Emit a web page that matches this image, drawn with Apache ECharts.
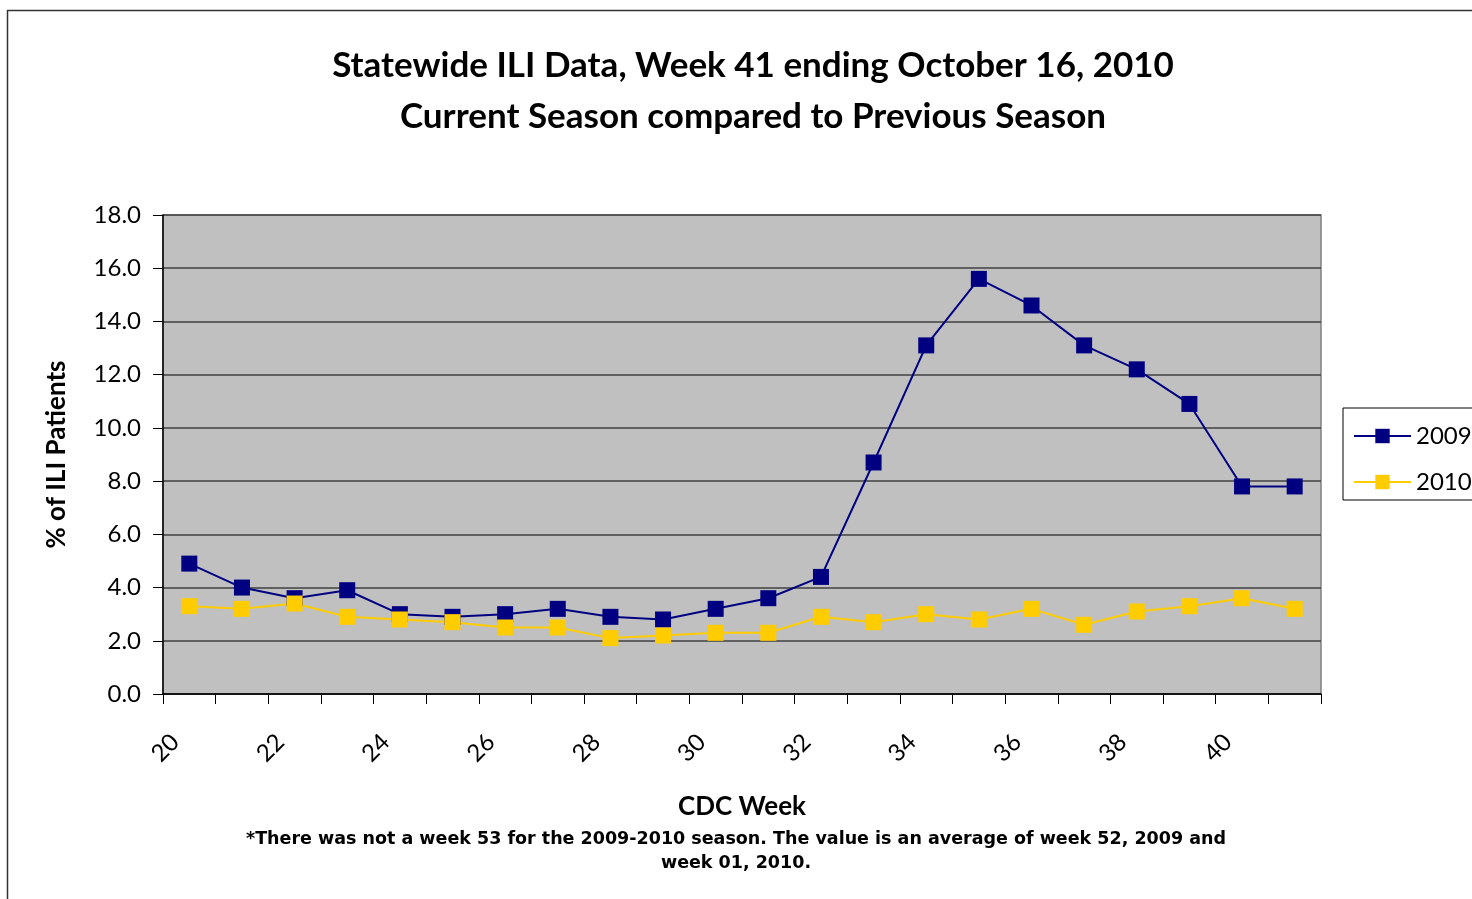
<!DOCTYPE html>
<html>
<head>
<meta charset="utf-8">
<script src="https://cdn.jsdelivr.net/npm/echarts@6/dist/echarts.min.js"></script>
<style>
html,body{margin:0;padding:0;background:#fff;}
#chart{width:1472px;height:899px;}
</style>
</head>
<body>
<div id="chart"></div>
<script>
const weeks = ['20','21','22','23','24','25','26','27','28','29','30','31','32','33','34','35','36','37','38','39','40','41'];
const season2009 = [4.9,4.0,3.6,3.9,3.0,2.9,3.0,3.2,2.9,2.8,3.2,3.6,4.4,8.7,13.1,15.6,14.6,13.1,12.2,10.9,7.8,7.8];
const season2010 = [3.3,3.2,3.4,2.9,2.8,2.7,2.5,2.5,2.1,2.2,2.3,2.3,2.9,2.7,3.0,2.8,3.2,2.6,3.1,3.3,3.6,3.2];
const yTicks = {min:0, max:18, interval:2};

const chart = echarts.init(document.getElementById('chart'));
chart.setOption({
  animation:false,
  backgroundColor:'#fff',
  graphic:[
    {type:'rect', left:5, top:8, shape:{x:0,y:0,width:1600,height:1000}, style:{fill:'none', stroke:'#333', lineWidth:1.5}, z:-10},
    {type:'text', left:'center', top:827, style:{text:'*There was not a week 53 for the 2009-2010 season. The value is an average of week 52, 2009 and\nweek 01, 2010.', font:'bold 17.5px "DejaVu Sans"', fill:'#000', textAlign:'center', lineHeight:24}}
  ],
  title:{
    text:'Statewide ILI Data, Week 41 ending October 16, 2010\nCurrent Season compared to Previous Season',
    left:748, top:35, textAlign:'center',
    textStyle:{fontFamily:'Lato', fontWeight:'bold', fontSize:35, lineHeight:51, color:'#000'}
  },
  legend:{
    left:1343, top:408, orient:'vertical',
    borderColor:'#000', borderWidth:1, padding:[16,12,6,10],
    itemWidth:57, itemHeight:18, itemGap:22,
    textStyle:{fontFamily:'Lato', fontSize:24, color:'#000'},
    data:['2009','2010']
  },
  grid:{left:163, top:215, right:151, bottom:205, show:true, backgroundColor:'#C0C0C0', borderColor:'#808080', borderWidth:1.5},
  xAxis:{
    type:'category', data:weeks, boundaryGap:true,
    name:'CDC Week', nameLocation:'middle', nameGap:100,
    nameTextStyle:{fontFamily:'Lato', fontWeight:'bold', fontSize:26, color:'#000'},
    axisLine:{lineStyle:{color:'#000', width:1.5}},
    axisTick:{show:true, interval:0, length:10, alignWithLabel:false, lineStyle:{color:'#000', width:1}},
    axisLabel:{interval:1, rotate:45, margin:30, padding:[0,20,0,0], fontFamily:'Lato', fontSize:24, color:'#000'},
    splitLine:{show:false}
  },
  yAxis:{
    type:'value', min:yTicks.min, max:yTicks.max, interval:yTicks.interval,
    name:'% of ILI Patients', nameLocation:'middle', nameGap:93, nameRotate:90,
    nameTextStyle:{fontFamily:'Lato', fontWeight:'bold', fontSize:26, color:'#000'},
    axisLine:{show:true, lineStyle:{color:'#000', width:1.5}},
    axisTick:{show:true, length:10, lineStyle:{color:'#000', width:1}},
    axisLabel:{margin:22, fontFamily:'Lato', fontSize:24, color:'#000', formatter:v=>v.toFixed(1)},
    splitLine:{show:true, lineStyle:{color:'#404040', width:1.5}}
  },
  series:[
    {name:'2009', type:'line', data:season2009, symbol:'rect', symbolSize:16,
     itemStyle:{color:'#000080'}, lineStyle:{color:'#000080', width:2}},
    {name:'2010', type:'line', data:season2010, symbol:'rect', symbolSize:16,
     itemStyle:{color:'#FFCC00'}, lineStyle:{color:'#FFCC00', width:2}}
  ]
});
</script>
</body>
</html>
